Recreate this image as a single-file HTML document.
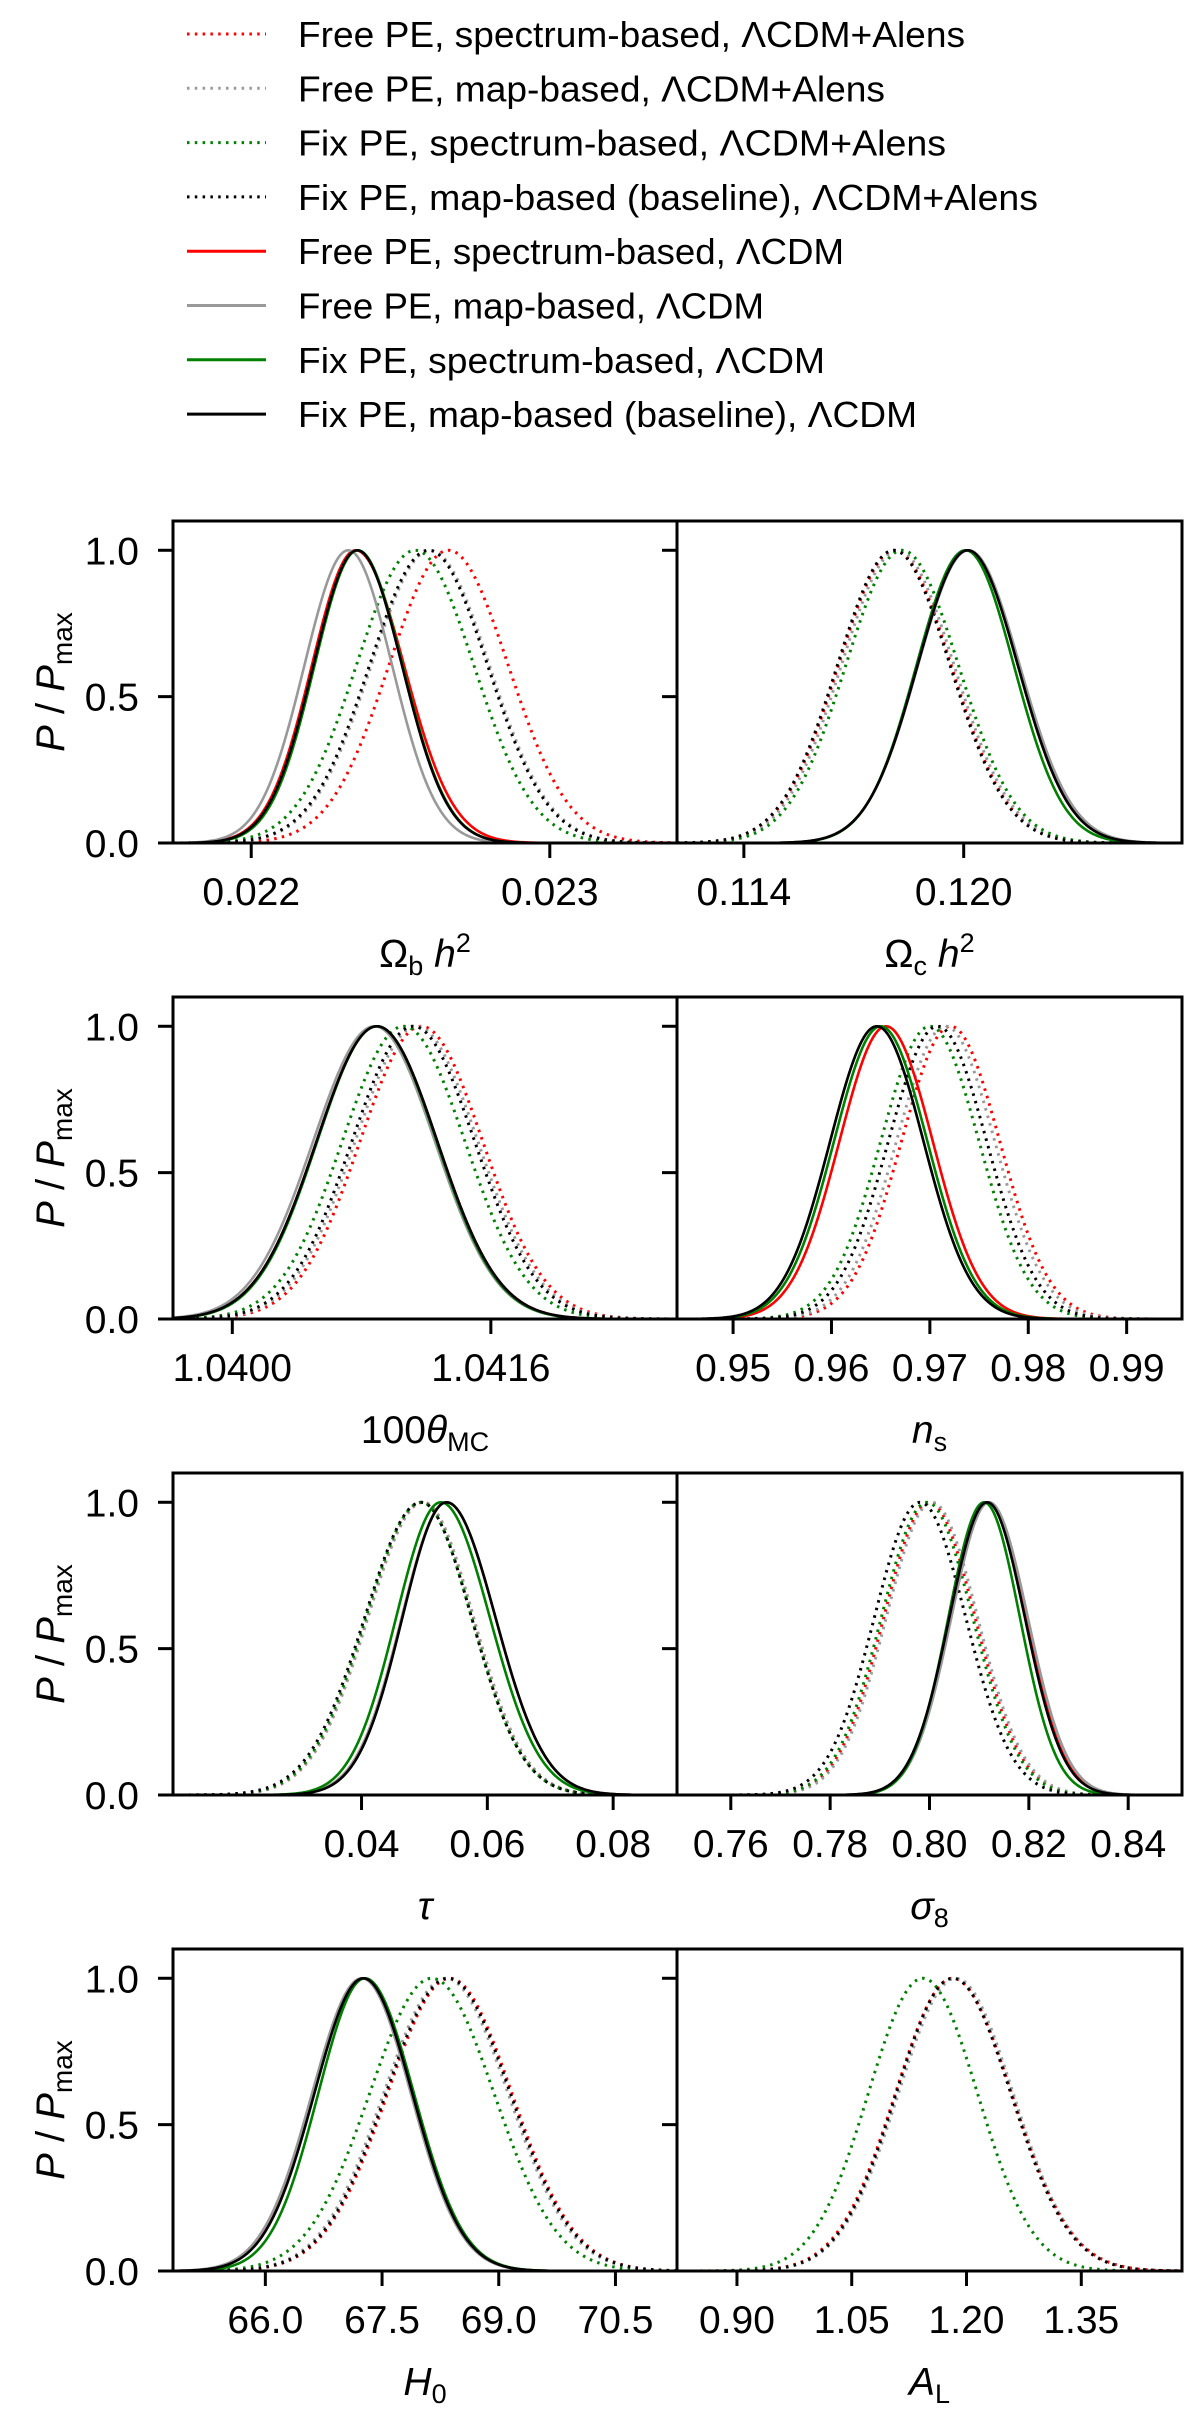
<!DOCTYPE html>
<html><head><meta charset="utf-8"><style>
html,body{margin:0;padding:0;background:#fff;}
svg{display:block;font-family:"Liberation Sans","DejaVu Sans",sans-serif;}
</style></head><body>
<svg id="fig" width="1200" height="2426" viewBox="0 0 1200 2426" xmlns="http://www.w3.org/2000/svg">
<g id="legend"></g>
<g id="panels"></g>
</svg>
<script>
// series order: 0 red dot,1 gray dot,2 green dot,3 black dot,4 red solid,5 gray solid,6 green solid,7 black solid
const seriesLabels = ["Free PE, spectrum-based, ΛCDM+Alens","Free PE, map-based, ΛCDM+Alens","Fix PE, spectrum-based, ΛCDM+Alens","Fix PE, map-based (baseline), ΛCDM+Alens","Free PE, spectrum-based, ΛCDM","Free PE, map-based, ΛCDM","Fix PE, spectrum-based, ΛCDM","Fix PE, map-based (baseline), ΛCDM"];
const legendWidths = [667,587,648,740,546,466,527,619];

const p1Mean = [0.022661,0.022600,0.022549,0.022594,0.022350,0.022325,0.022357,0.022355];
const p1SigL = [0.000200,0.000198,0.000197,0.000198,0.000147,0.000147,0.000145,0.000147];
const p1SigR = [0.000200,0.000198,0.000197,0.000198,0.000162,0.000147,0.000150,0.000150];
const p2Mean = [0.11812,0.1182,0.11832,0.11809,0.12011,0.12013,0.12005,0.12011];
const p2SigL = [0.00154,0.00154,0.00154,0.00154,0.00137,0.00138,0.00134,0.00137];
const p2SigR = [0.00154,0.00154,0.00154,0.00154,0.00137,0.00140,0.00132,0.00137];
const p3Mean = [1.04117,1.04114,1.04106,1.04112,1.040895,1.04088,1.040895,1.040895];
const p3SigL = [0.00038,0.00038,0.00038,0.00038,0.000374,0.000380,0.000370,0.000374];
const p3SigR = [0.00038,0.00038,0.00038,0.00038,0.000374,0.000374,0.000370,0.000374];
const p4Mean = [0.97211,0.9716,0.9700,0.97078,0.96555,0.9646,0.9650,0.96461];
const p4SigL = [0.0050,0.0050,0.0050,0.0050,0.00475,0.00475,0.00475,0.00475];
const p4SigR = [0.0050,0.0050,0.0050,0.0050,0.00475,0.00475,0.00475,0.00475];
const p5Mean = [0.0498,0.0498,0.0495,0.0495,0.0535,0.0535,0.0526,0.0535];
const p5SigL = [0.0088,0.0088,0.0088,0.0090,0.0071,0.0071,0.0071,0.0070];
const p5SigR = [0.0080,0.0080,0.0080,0.0080,0.0078,0.0078,0.0078,0.0078];
const p6Mean = [0.8000,0.8005,0.7995,0.7981,0.8118,0.8120,0.8110,0.8116];
const p6SigL = [0.0092,0.0092,0.0092,0.0092,0.0076,0.0076,0.0072,0.0076];
const p6SigR = [0.0092,0.0092,0.0092,0.0092,0.0076,0.0078,0.0072,0.0076];
const p7Mean = [68.37,68.32,68.14,68.35,67.25,67.24,67.28,67.26];
const p7SigL = [0.80,0.80,0.80,0.80,0.63,0.64,0.60,0.63];
const p7SigR = [0.80,0.80,0.80,0.80,0.63,0.63,0.63,0.63];
const p8Mean = [1.182,1.186,1.143,1.182,null,null,null,null];
const p8SigL = [0.075,0.075,0.0714,0.074,null,null,null,null];
const p8SigR = [0.077,0.075,0.0714,0.076,null,null,null,null];

const p1Ticks = [0.022,0.023]; const p1TickLabels = ["0.022","0.023"];
const p2Ticks = [0.114,0.120]; const p2TickLabels = ["0.114","0.120"];
const p3Ticks = [1.0400,1.0416]; const p3TickLabels = ["1.0400","1.0416"];
const p4Ticks = [0.95,0.96,0.97,0.98,0.99]; const p4TickLabels = ["0.95","0.96","0.97","0.98","0.99"];
const p5Ticks = [0.04,0.06,0.08]; const p5TickLabels = ["0.04","0.06","0.08"];
const p6Ticks = [0.76,0.78,0.80,0.82,0.84]; const p6TickLabels = ["0.76","0.78","0.80","0.82","0.84"];
const p7Ticks = [66.0,67.5,69.0,70.5]; const p7TickLabels = ["66.0","67.5","69.0","70.5"];
const p8Ticks = [0.90,1.05,1.20,1.35]; const p8TickLabels = ["0.90","1.05","1.20","1.35"];

const yTicks = [0.0,0.5,1.0]; const yTickLabels = ["0.0","0.5","1.0"];

const NS="http://www.w3.org/2000/svg";
const colors=["#ff0000","#999999","#008000","#000000","#ff0000","#999999","#008000","#000000"];
function mk(tag,attrs,parent){const e=document.createElementNS(NS,tag);for(const k in attrs)e.setAttribute(k,attrs[k]);parent.appendChild(e);return e;}

const lg=document.getElementById('legend');
for(let i=0;i<8;i++){
  const cy=34+i*54.3;
  const ln=mk('line',{x1:187,x2:266,y1:cy,y2:cy,stroke:colors[i],'stroke-width':3},lg);
  if(i<4){ln.setAttribute('stroke-dasharray','2.5 5.3');}
  
  
  const t=mk('text',{x:298,y:cy+13,'font-size':36,fill:'#000',textLength:legendWidths[i],lengthAdjust:'spacingAndGlyphs'},lg);
  t.textContent=seriesLabels[i];
  
  
}

const panels=[
 {x0:173,x1:677,row:0,xl:[0.021738,0.023426],mean:p1Mean,sL:p1SigL,sR:p1SigR,ticks:p1Ticks,tl:p1TickLabels,title:'<tspan>Ω</tspan><tspan dy="8" font-size="27">b</tspan><tspan dy="-8" font-style="italic"> h</tspan><tspan dy="-15" font-size="27">2</tspan>',name:'omega-b'},
 {x0:677,x1:1182,row:0,xl:[0.112175,0.125958],mean:p2Mean,sL:p2SigL,sR:p2SigR,ticks:p2Ticks,tl:p2TickLabels,title:'<tspan>Ω</tspan><tspan dy="8" font-size="27">c</tspan><tspan dy="-8" font-style="italic"> h</tspan><tspan dy="-15" font-size="27">2</tspan>',name:'omega-c'},
 {x0:173,x1:677,row:1,xl:[1.039633,1.042752],mean:p3Mean,sL:p3SigL,sR:p3SigR,ticks:p3Ticks,tl:p3TickLabels,title:'<tspan>100</tspan><tspan font-style="italic">θ</tspan><tspan dy="8" font-size="27">MC</tspan>',name:'theta-mc'},
 {x0:677,x1:1182,row:1,xl:[0.94430,0.995625],mean:p4Mean,sL:p4SigL,sR:p4SigR,ticks:p4Ticks,tl:p4TickLabels,title:'<tspan font-style="italic">n</tspan><tspan dy="8" font-size="27">s</tspan>',name:'ns'},
 {x0:173,x1:677,row:2,xl:[0.01003,0.09015],mean:p5Mean,sL:p5SigL,sR:p5SigR,ticks:p5Ticks,tl:p5TickLabels,title:'<tspan font-style="italic">τ</tspan>',name:'tau'},
 {x0:677,x1:1182,row:2,xl:[0.74917,0.85083],mean:p6Mean,sL:p6SigL,sR:p6SigR,ticks:p6Ticks,tl:p6TickLabels,title:'<tspan font-style="italic">σ</tspan><tspan dy="8" font-size="27">8</tspan>',name:'sigma8'},
 {x0:173,x1:677,row:3,xl:[64.813,71.291],mean:p7Mean,sL:p7SigL,sR:p7SigR,ticks:p7Ticks,tl:p7TickLabels,title:'<tspan font-style="italic">H</tspan><tspan dy="8" font-size="27">0</tspan>',name:'h0'},
 {x0:677,x1:1182,row:3,xl:[0.82163,1.48162],mean:p8Mean,sL:p8SigL,sR:p8SigR,ticks:p8Ticks,tl:p8TickLabels,title:'<tspan font-style="italic">A</tspan><tspan dy="8" font-size="27">L</tspan>',name:'a-lens'}
];

const pg=document.getElementById('panels');
panels.forEach(p=>{
  const top=521+p.row*476, bot=top+322;
  const xs=v=>p.x0+(v-p.xl[0])/(p.xl[1]-p.xl[0])*(p.x1-p.x0);
  const ys=v=>bot-v/1.1*322;
  const g=mk('g',{},pg);
  
  
  const cid='clip-'+p.name;
  const cp=mk('clipPath',{id:cid},g);
  mk('rect',{x:p.x0,y:top,width:p.x1-p.x0,height:322},cp);
  const cg=mk('g',{'clip-path':'url(#'+cid+')'},g);
  for(let s=0;s<8;s++){
    const m=p.mean[s]; if(m===null) continue;
    let d='';
    const N=300;
    for(let k=0;k<=N;k++){
      const v=p.xl[0]+(p.xl[1]-p.xl[0])*k/N;
      const sg=v<m?p.sL[s]:p.sR[s];
      const y=Math.exp(-0.5*((v-m)/sg)**2);
      d+=(k?'L':'M')+xs(v).toFixed(2)+' '+ys(y).toFixed(2);
    }
    const path=mk('path',{d:d,fill:'none',stroke:colors[s],'stroke-width':s<4?3:2.6,'stroke-linejoin':'round'},cg);
    if(s<4){path.setAttribute('stroke-dasharray','2.5 5.3');}
    
    
  }
  const fr=mk('rect',{x:p.x0,y:top,width:p.x1-p.x0,height:322,fill:'none',stroke:'#000','stroke-width':3},g);
  
  
  yTicks.forEach((v,i)=>{
    mk('line',{x1:p.x0-15,x2:p.x0,y1:ys(v),y2:ys(v),stroke:'#000','stroke-width':3},g);
    if(p.x0<300){
      const t=mk('text',{x:139,y:ys(v)+14,'font-size':39,'text-anchor':'end',fill:'#000'},g);
      t.textContent=yTickLabels[i];
      
      
    }
  });
  p.ticks.forEach((v,i)=>{
    const x=xs(v);
    mk('line',{x1:x,x2:x,y1:bot,y2:bot+15,stroke:'#000','stroke-width':3},g);
    const t=mk('text',{x:x,y:bot+62,'font-size':39,'text-anchor':'middle',fill:'#000'},g);
    t.textContent=p.tl[i];
    
    
  });
  const tt=mk('text',{x:(p.x0+p.x1)/2,y:bot+124,'font-size':39,'text-anchor':'middle',fill:'#000'},g);
  tt.innerHTML=p.title;
  
  
  if(p.x0<300){
    const yl=mk('text',{x:0,y:0,'font-size':40,'text-anchor':'middle',fill:'#000',transform:'translate(64,'+((top+bot)/2)+') rotate(-90)'},g);
    yl.innerHTML='<tspan font-style="italic">P</tspan><tspan> / </tspan><tspan font-style="italic">P</tspan><tspan dy="8" font-size="28">max</tspan>';
    
    
  }
});
</script>
</body></html>
